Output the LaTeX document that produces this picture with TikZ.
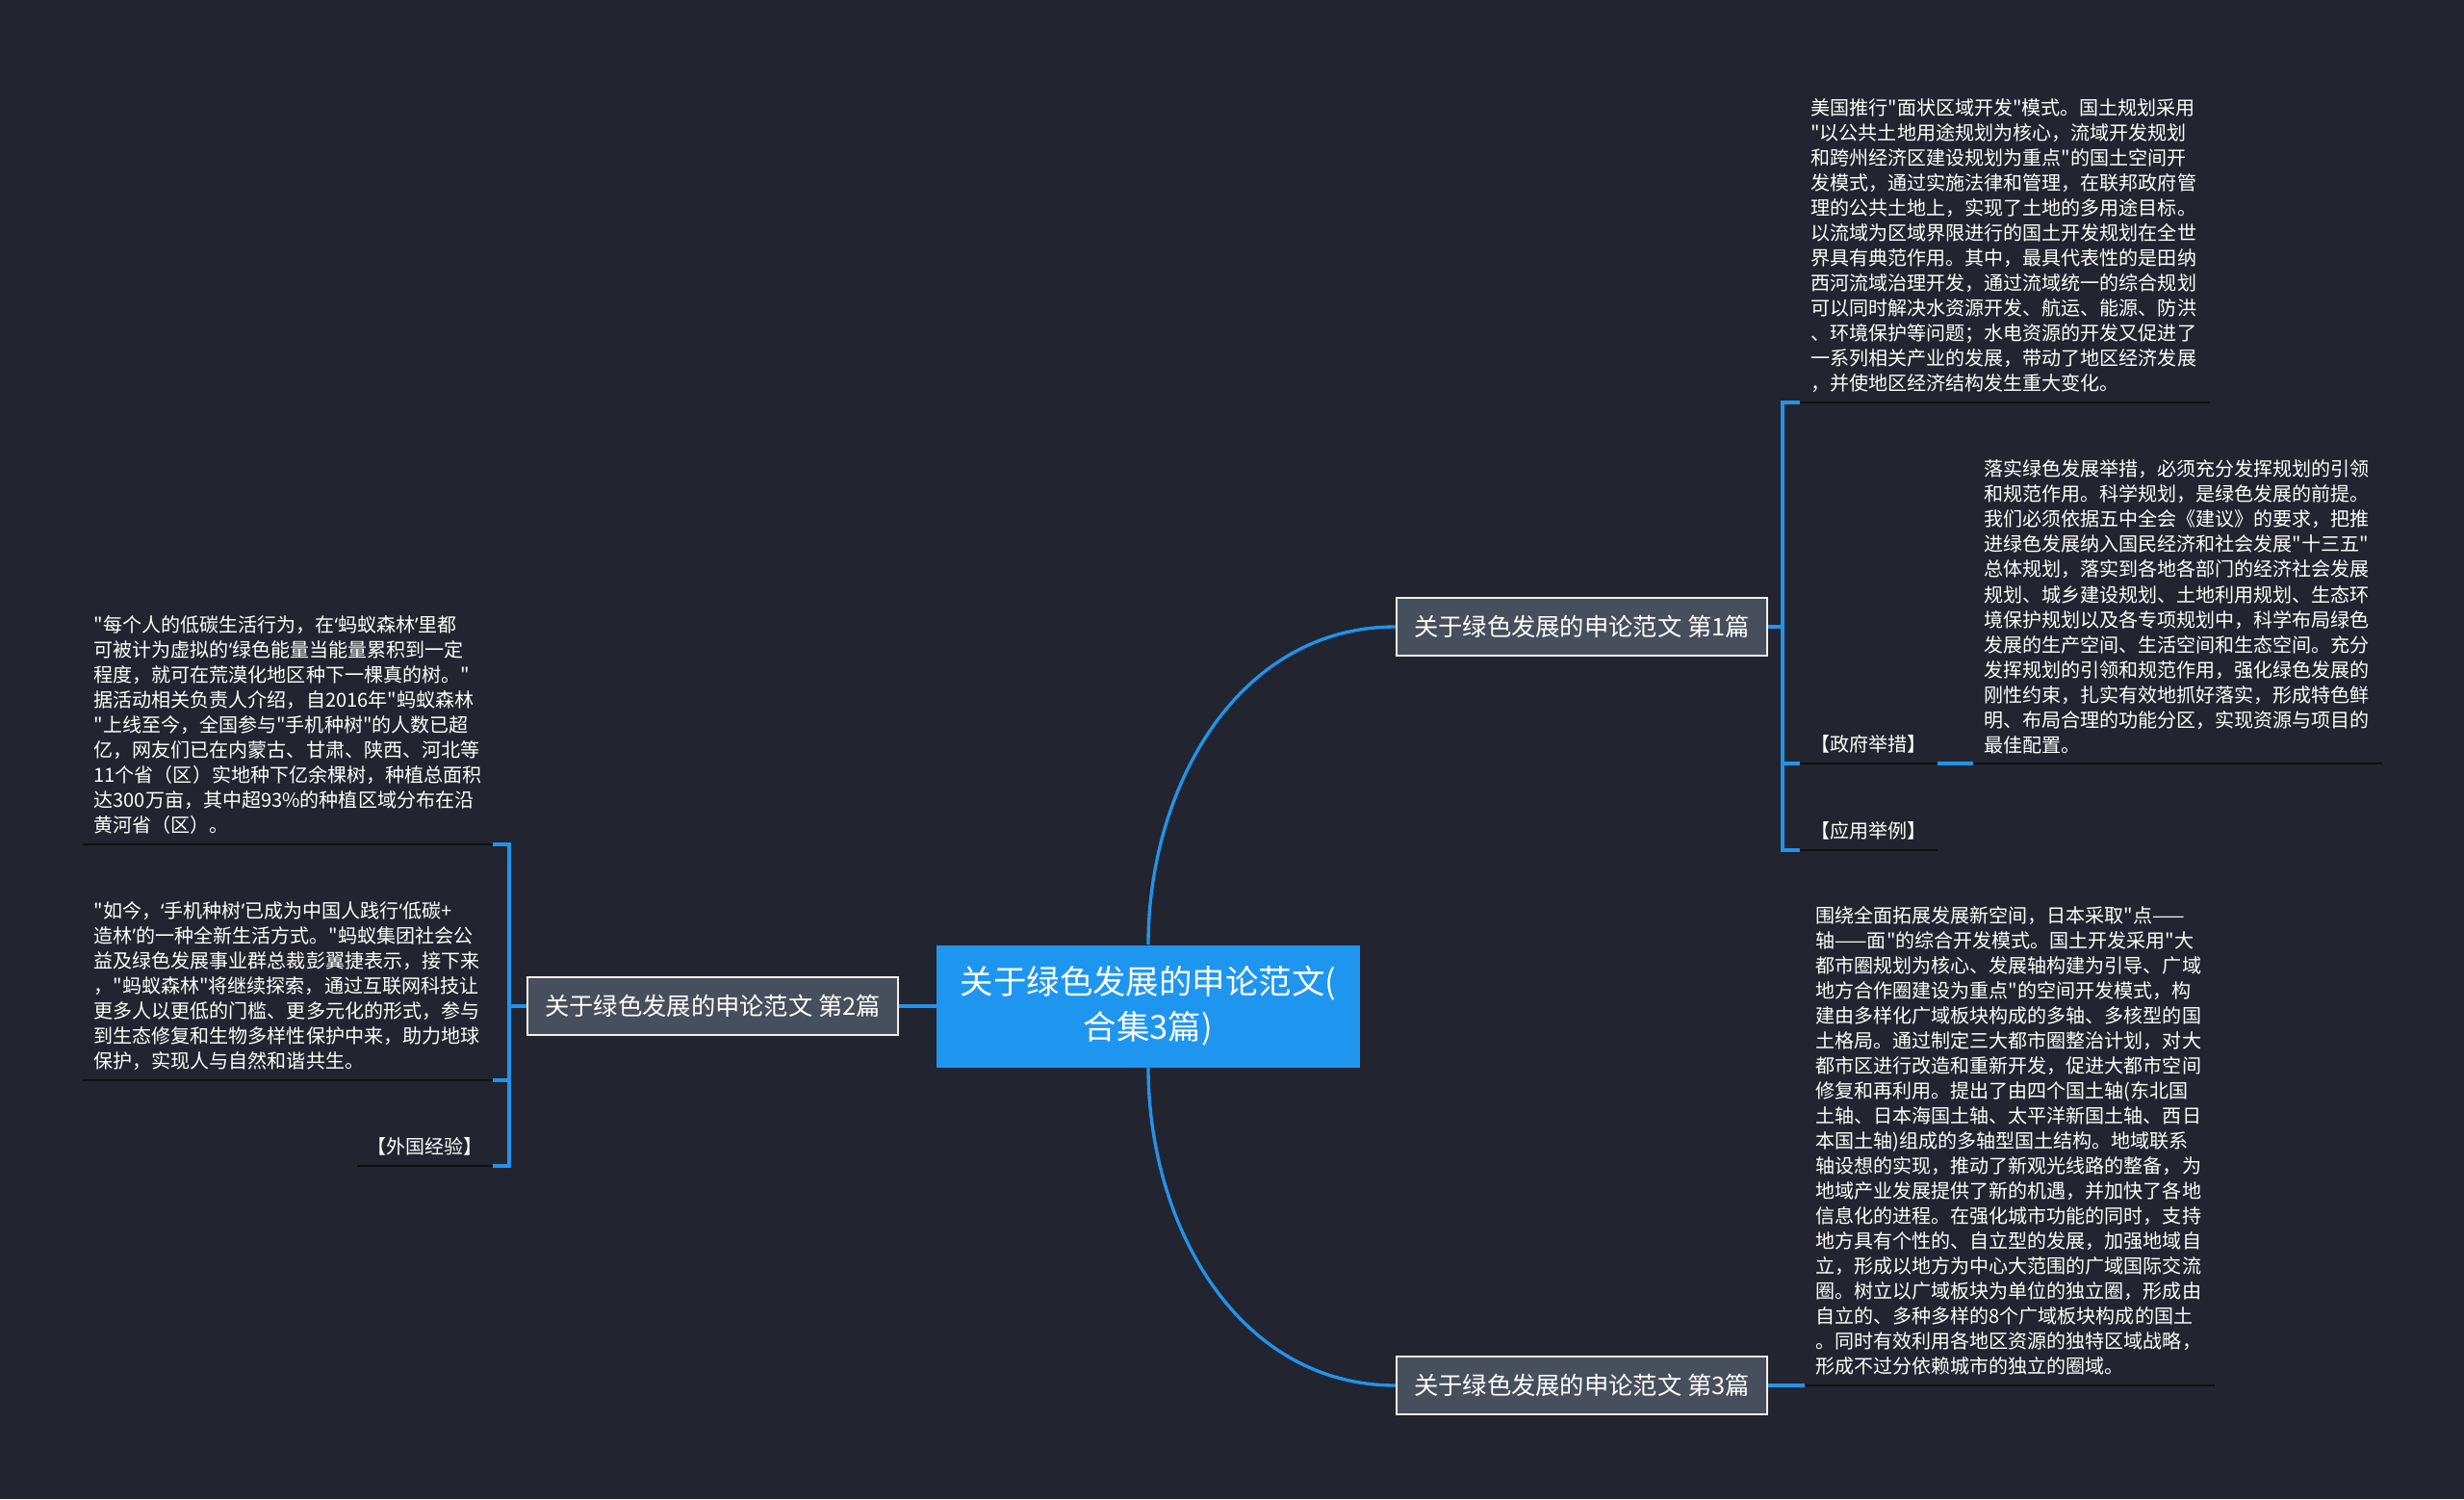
\documentclass[tikz,border=0pt]{standalone}
\usepackage{fontspec}
\setmainfont{Noto Sans CJK SC}[Ligatures=TeXOff]
\newfontfamily\quotefont{Noto Sans}[Ligatures=TeXOff]
\newcommand{\sqopen}{{\quotefont ‘}}
\newcommand{\sqclose}{{\quotefont ’}}
\usepackage{xcolor}
\usetikzlibrary{positioning,calc}
\definecolor{bgdark}{HTML}{22252F}
\definecolor{topicblue}{HTML}{1E96F0}
\definecolor{linkblue}{HTML}{2293EA}
\definecolor{subfill}{HTML}{474E5C}
\definecolor{lineblack}{HTML}{0F1013}

\begin{document}
\begin{tikzpicture}[
  topic/.style={rectangle, fill=topicblue, text=white,
                font=\fontsize{19.6}{26.7}\selectfont, minimum width=8.8cm,
                minimum height=2.54cm, align=center, inner sep=0pt},
  subbox/.style={rectangle, draw=white!88!gray, fill=subfill, line width=1.1pt,
                 text=white, font=\fontsize{14.4}{17}\selectfont,
                 minimum width=7.7cm, minimum height=1.2cm},
  txt/.style={text=white, font=\fontsize{11.4}{14.8}\selectfont, text width=8.06cm,
              align=left, inner xsep=0.22cm, inner ysep=0.2cm},
  tag/.style={text=white, font=\fontsize{11.4}{14.8}\selectfont,
              minimum width=2.84cm, inner xsep=0pt, inner ysep=0.2cm},
  link/.style={linkblue, line width=1.9pt},
  uline/.style={lineblack, line width=1.6pt}
]
%--- Background ---
\fill[bgdark] (0,0) rectangle (51.2,-31.14);

%--- Root and branches ---
\node[topic] (root) at (23.86,-20.9) {关于绿色发展的申论范文(\\合集3篇)};
\node[subbox, anchor=west] (s1) at (29.0,-13.02) {关于绿色发展的申论范文 第1篇};
\node[subbox, anchor=east] (s2) at (18.68,-20.9) {关于绿色发展的申论范文 第2篇};
\node[subbox, anchor=west] (s3) at (29.0,-28.78) {关于绿色发展的申论范文 第3篇};

%--- Branch 1 ---
\node[txt, anchor=south west] (tA) at (37.4,-8.36) {%
美国推行"面状区域开发"模式。国土规划采用\\
"以公共土地用途规划为核心，流域开发规划\\
和跨州经济区建设规划为重点"的国土空间开\\
发模式，通过实施法律和管理，在联邦政府管\\
理的公共土地上，实现了土地的多用途目标。\\
以流域为区域界限进行的国土开发规划在全世\\
界具有典范作用。其中，最具代表性的是田纳\\
西河流域治理开发，通过流域统一的综合规划\\
可以同时解决水资源开发、航运、能源、防洪\\
、环境保护等问题；水电资源的开发又促进了\\
一系列相关产业的发展，带动了地区经济发展\\
，并使地区经济结构发生重大变化。};
\node[tag, anchor=south west] (lG) at (37.4,-15.86) {【政府举措】};
\node[txt, right=0.74cm of lG.south east, anchor=south west] (tB) {%
落实绿色发展举措，必须充分发挥规划的引领\\
和规范作用。科学规划，是绿色发展的前提。\\
我们必须依据五中全会《建议》的要求，把推\\
进绿色发展纳入国民经济和社会发展"十三五"\\
总体规划，落实到各地各部门的经济社会发展\\
规划、城乡建设规划、土地利用规划、生态环\\
境保护规划以及各专项规划中，科学布局绿色\\
发展的生产空间、生活空间和生态空间。充分\\
发挥规划的引领和规范作用，强化绿色发展的\\
刚性约束，扎实有效地抓好落实，形成特色鲜\\
明、布局合理的功能分区，实现资源与项目的\\
最佳配置。};
\node[tag, anchor=south west] (lY) at (37.4,-17.66) {【应用举例】};

%--- Branch 2 ---
\node[txt, anchor=south east] (tC) at (10.24,-17.54) {%
"每个人的低碳生活行为，在\sqopen 蚂蚁森林\sqclose 里都\\
可被计为虚拟的\sqopen 绿色能量当能量累积到一定\\
程度，就可在荒漠化地区种下一棵真的树。"\\
据活动相关负责人介绍，自2016年"蚂蚁森林\\
"上线至今，全国参与"手机种树"的人数已超\\
亿，网友们已在内蒙古、甘肃、陕西、河北等\\
11个省（区）实地种下亿余棵树，种植总面积\\
达300万亩，其中超93\%的种植区域分布在沿\\
黄河省（区）。};
\node[txt, anchor=south east] (tD) at (10.24,-22.44) {%
"如今，\sqopen 手机种树\sqclose 已成为中国人践行\sqopen 低碳+\\
造林\sqclose 的一种全新生活方式。"蚂蚁集团社会公\\
益及绿色发展事业群总裁彭翼捷表示，接下来\\
，"蚂蚁森林"将继续探索，通过互联网科技让\\
更多人以更低的门槛、更多元化的形式，参与\\
到生态修复和生物多样性保护中来，助力地球\\
保护，实现人与自然和谐共生。};
\node[tag, anchor=south east, minimum width=2.8cm] (lW) at (10.24,-24.22) {【外国经验】};

%--- Branch 3 ---
\node[txt, anchor=south west] (tE) at (37.5,-28.78) {%
围绕全面拓展发展新空间，日本采取"点——\\
轴——面"的综合开发模式。国土开发采用"大\\
都市圈规划为核心、发展轴构建为引导、广域\\
地方合作圈建设为重点"的空间开发模式，构\\
建由多样化广域板块构成的多轴、多核型的国\\
土格局。通过制定三大都市圈整治计划，对大\\
都市区进行改造和重新开发，促进大都市空间\\
修复和再利用。提出了由四个国土轴(东北国\\
土轴、日本海国土轴、太平洋新国土轴、西日\\
本国土轴)组成的多轴型国土结构。地域联系\\
轴设想的实现，推动了新观光线路的整备，为\\
地域产业发展提供了新的机遇，并加快了各地\\
信息化的进程。在强化城市功能的同时，支持\\
地方具有个性的、自立型的发展，加强地域自\\
立，形成以地方为中心大范围的广域国际交流\\
圈。树立以广域板块为单位的独立圈，形成由\\
自立的、多种多样的8个广域板块构成的国土\\
。同时有效利用各地区资源的独特区域战略，\\
形成不过分依赖城市的独立的圈域。};

%--- Underlines ---
\foreach \n in {tA,tB,tC,tD,tE,lG,lY,lW}
  \draw[uline] (\n.south west) -- (\n.south east);

%--- Connectors ---
\coordinate (k1) at (37.04,-13.02);
\coordinate (k2) at (10.58,-20.9);
\draw[link] (root.west) -- (s2.east);
\draw[link] (root.north) to[out=90, in=180] (s1.west);
\draw[link] (root.south) to[out=-90, in=180] (s3.west);
\draw[link] (s1.east) -- (k1);
\draw[link] (tA.south west) -| (k1) |- (lY.south west);
\draw[link] (k1 |- lG.south west) -- (lG.south west);
\draw[link] (lG.south east) -- (tB.south west);
\draw[link] (s2.west) -- (k2);
\draw[link] (tC.south east) -| (k2) |- (lW.south east);
\draw[link] (k2 |- tD.south east) -- (tD.south east);
\draw[link] (s3.east) -- (tE.south west);
\end{tikzpicture}
\end{document}
